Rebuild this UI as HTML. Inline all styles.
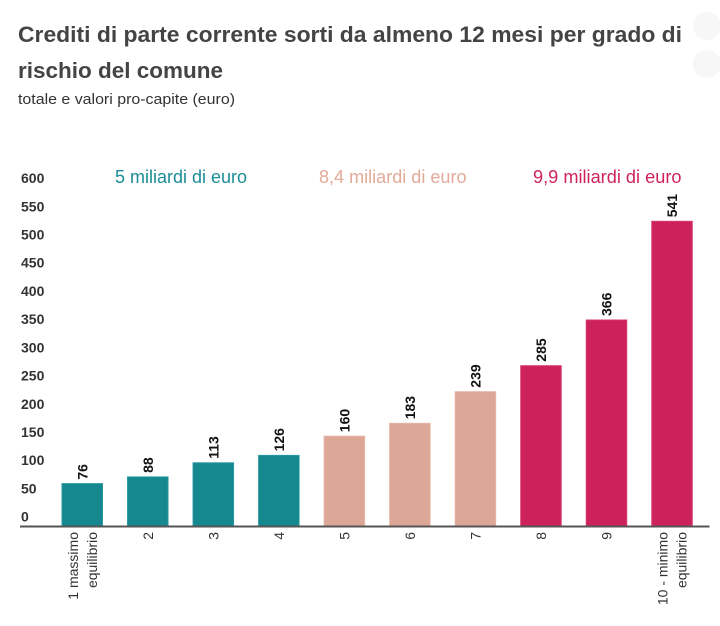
<!DOCTYPE html>
<html>
<head>
<meta charset="utf-8">
<style>
  html,body{margin:0;padding:0;background:#fff;}
  svg{display:block;}
  text{font-family:"Liberation Sans", Arial, sans-serif;}
</style>
</head>
<body>
<svg width="720" height="626" viewBox="0 0 720 626" xmlns="http://www.w3.org/2000/svg">
  <rect width="720" height="626" fill="#fff"/>
  <circle cx="707" cy="26" r="14" fill="#f7f7f7"/>
  <circle cx="707" cy="64" r="14" fill="#f7f7f7"/>

  <!-- Title -->
  <text x="18" y="42" font-size="22" font-weight="bold" fill="#444" textLength="664" lengthAdjust="spacingAndGlyphs">Crediti di parte corrente sorti da almeno 12 mesi per grado di</text>
  <text x="18" y="78" font-size="22" font-weight="bold" fill="#444" textLength="205" lengthAdjust="spacingAndGlyphs">rischio del comune</text>
  <text x="18" y="104" font-size="15" fill="#333" textLength="217" lengthAdjust="spacingAndGlyphs">totale e valori pro-capite (euro)</text>

  <!-- Group labels -->
  <text x="115" y="183" font-size="18" fill="#1a8d96" textLength="132" lengthAdjust="spacingAndGlyphs">5 miliardi di euro</text>
  <text x="319" y="183" font-size="18" fill="#e2aa98" textLength="147.5" lengthAdjust="spacingAndGlyphs">8,4 miliardi di euro</text>
  <text x="533" y="183" font-size="18" fill="#cf235d" textLength="148.5" lengthAdjust="spacingAndGlyphs">9,9 miliardi di euro</text>

  <!-- Y axis labels -->
  <g font-size="14" font-weight="bold" fill="#333">
    <text x="21" y="183.1">600</text>
    <text x="21" y="211.3">550</text>
    <text x="21" y="239.5">500</text>
    <text x="21" y="267.7">450</text>
    <text x="21" y="295.9">400</text>
    <text x="21" y="324.1">350</text>
    <text x="21" y="352.4">300</text>
    <text x="21" y="380.6">250</text>
    <text x="21" y="408.8">200</text>
    <text x="21" y="437.0">150</text>
    <text x="21" y="465.2">100</text>
    <text x="21" y="493.5">50</text>
    <text x="21" y="521.7">0</text>
  </g>

  <!-- Bars -->
  <g stroke-width="1">
    <rect x="62" y="483.6" width="40.5" height="42.4" fill="#15878f" stroke="#2a98a0"/>
    <rect x="127.53" y="476.9" width="40.5" height="49.1" fill="#15878f" stroke="#2a98a0"/>
    <rect x="193.06" y="462.8" width="40.5" height="63.2" fill="#15878f" stroke="#2a98a0"/>
    <rect x="258.59" y="455.4" width="40.5" height="70.6" fill="#15878f" stroke="#2a98a0"/>
    <rect x="324.12" y="436.2" width="40.5" height="89.8" fill="#dca796" stroke="#e6b5a6"/>
    <rect x="389.65" y="423.3" width="40.5" height="102.7" fill="#dca796" stroke="#e6b5a6"/>
    <rect x="455.18" y="391.7" width="40.5" height="134.3" fill="#dca796" stroke="#e6b5a6"/>
    <rect x="520.71" y="365.7" width="40.5" height="160.3" fill="#cc215a" stroke="#d8396c"/>
    <rect x="586.24" y="320.0" width="40.5" height="206" fill="#cc215a" stroke="#d8396c"/>
    <rect x="651.77" y="221.3" width="40.5" height="304.7" fill="#cc215a" stroke="#d8396c"/>
  </g>

  <!-- Axis line -->
  <line x1="20" y1="526.5" x2="709.5" y2="526.5" stroke="#555" stroke-width="2"/>

  <!-- Value labels -->
  <g font-size="14" font-weight="bold" fill="#111">
    <text transform="translate(87.25,479.6) rotate(-90)">76</text>
    <text transform="translate(152.78,472.9) rotate(-90)">88</text>
    <text transform="translate(218.31,458.8) rotate(-90)">113</text>
    <text transform="translate(283.84,451.4) rotate(-90)">126</text>
    <text transform="translate(349.37,432.2) rotate(-90)">160</text>
    <text transform="translate(414.9,419.3) rotate(-90)">183</text>
    <text transform="translate(480.43,387.7) rotate(-90)">239</text>
    <text transform="translate(545.96,361.7) rotate(-90)">285</text>
    <text transform="translate(611.49,316.0) rotate(-90)">366</text>
    <text transform="translate(677.02,217.3) rotate(-90)">541</text>
  </g>

  <!-- Category labels -->
  <g font-size="14" fill="#333" text-anchor="end">
    <text transform="translate(77.75,532) rotate(-90)">1 massimo</text>
    <text transform="translate(96.75,532) rotate(-90)">equilibrio</text>
    <text transform="translate(152.78,532) rotate(-90)">2</text>
    <text transform="translate(218.31,532) rotate(-90)">3</text>
    <text transform="translate(283.84,532) rotate(-90)">4</text>
    <text transform="translate(349.37,532) rotate(-90)">5</text>
    <text transform="translate(414.9,532) rotate(-90)">6</text>
    <text transform="translate(480.43,532) rotate(-90)">7</text>
    <text transform="translate(545.96,532) rotate(-90)">8</text>
    <text transform="translate(611.49,532) rotate(-90)">9</text>
    <text transform="translate(667.52,532) rotate(-90)">10 - minimo</text>
    <text transform="translate(686.52,532) rotate(-90)">equilibrio</text>
  </g>
</svg>
</body>
</html>
